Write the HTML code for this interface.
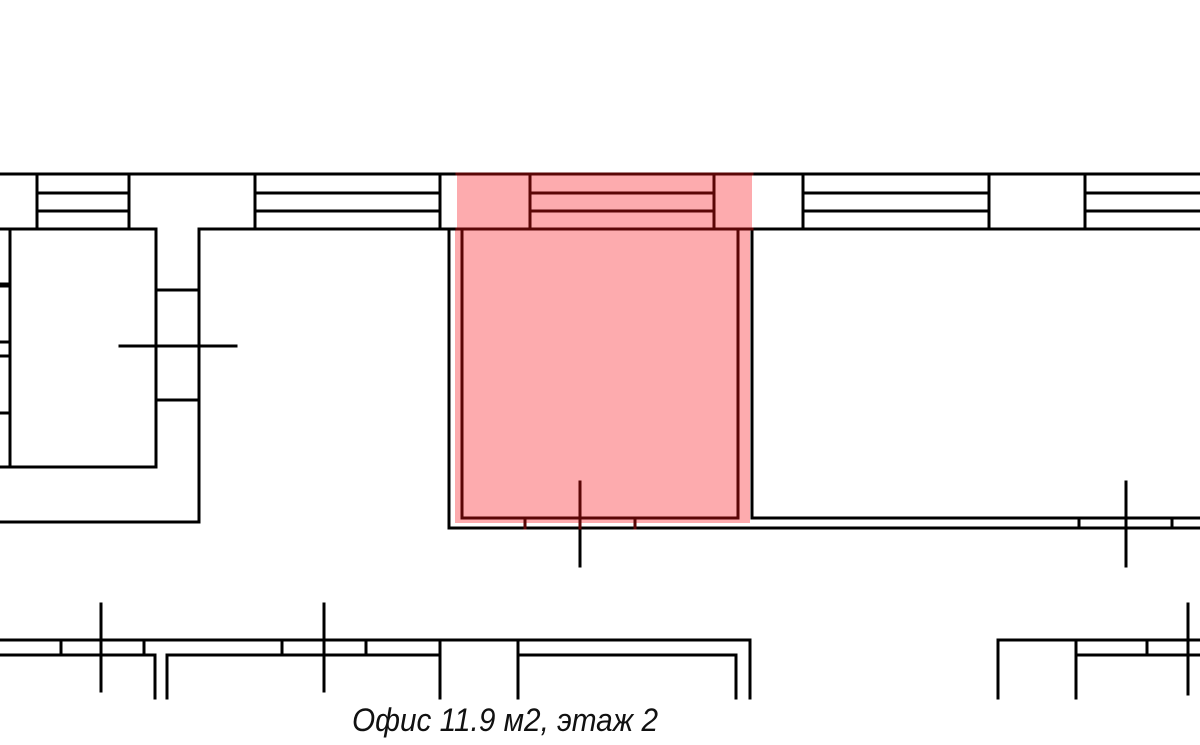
<!DOCTYPE html>
<html><head><meta charset="utf-8"><style>html,body{margin:0;padding:0;background:#fff;width:1200px;height:745px;overflow:hidden}</style></head>
<body>
<svg width="1200" height="745" viewBox="0 0 1200 745" xmlns="http://www.w3.org/2000/svg">
<rect x="457" y="174" width="295" height="56" fill="#fdabae"/>
<rect x="455" y="229" width="295" height="294" fill="#fdabae"/>
<g stroke="#000" stroke-width="3" fill="none" stroke-linecap="square">
<line x1="0" y1="174" x2="1200" y2="174"/>
<line x1="0" y1="229" x2="156" y2="229"/>
<line x1="199" y1="229" x2="1200" y2="229"/>
<line x1="37" y1="174" x2="37" y2="229"/><line x1="129" y1="174" x2="129" y2="229"/>
<line x1="37" y1="193" x2="129" y2="193"/><line x1="37" y1="211" x2="129" y2="211"/>
<line x1="255" y1="174" x2="255" y2="229"/><line x1="440" y1="174" x2="440" y2="229"/>
<line x1="255" y1="193" x2="440" y2="193"/><line x1="255" y1="211" x2="440" y2="211"/>
<line x1="803" y1="174" x2="803" y2="229"/><line x1="989" y1="174" x2="989" y2="229"/>
<line x1="803" y1="193" x2="989" y2="193"/><line x1="803" y1="211" x2="989" y2="211"/>
<line x1="1085" y1="174" x2="1085" y2="229"/>
<line x1="1085" y1="193" x2="1200" y2="193"/><line x1="1085" y1="211" x2="1200" y2="211"/>
<line x1="10" y1="229" x2="10" y2="467"/><line x1="156" y1="229" x2="156" y2="467"/>
<line x1="0" y1="467" x2="156" y2="467"/>
<line x1="199" y1="229" x2="199" y2="522"/><line x1="0" y1="522" x2="199" y2="522"/>
<line x1="156" y1="290" x2="199" y2="290"/><line x1="156" y1="400" x2="199" y2="400"/>
<line x1="120" y1="346" x2="236" y2="346"/>
<line x1="0" y1="342" x2="10" y2="342"/><line x1="0" y1="356" x2="10" y2="356"/><line x1="0" y1="413" x2="10" y2="413"/>
<line x1="0" y1="285" x2="8" y2="285" stroke-width="5"/>
<line x1="449" y1="229" x2="449" y2="528"/>
<line x1="449" y1="528" x2="1200" y2="528"/>
<line x1="752" y1="229" x2="752" y2="518"/><line x1="752" y1="518" x2="1200" y2="518"/>
<line x1="1079" y1="518" x2="1079" y2="528"/><line x1="1172" y1="518" x2="1172" y2="528"/>
<line x1="1126" y1="482" x2="1126" y2="566"/>
<line x1="580" y1="518" x2="580" y2="566"/>
<line x1="0" y1="640" x2="750" y2="640"/>
<line x1="0" y1="655" x2="155" y2="655"/><line x1="167" y1="655" x2="440" y2="655"/><line x1="518" y1="655" x2="736" y2="655"/>
<line x1="155" y1="655" x2="155" y2="698"/><line x1="167" y1="655" x2="167" y2="698"/>
<line x1="440" y1="640" x2="440" y2="698"/><line x1="518" y1="640" x2="518" y2="698"/>
<line x1="736" y1="655" x2="736" y2="698"/><line x1="750" y1="640" x2="750" y2="698"/>
<line x1="61" y1="640" x2="61" y2="655"/><line x1="144" y1="640" x2="144" y2="655"/>
<line x1="282" y1="640" x2="282" y2="655"/><line x1="366" y1="640" x2="366" y2="655"/>
<line x1="101" y1="604" x2="101" y2="691"/><line x1="324" y1="604" x2="324" y2="691"/>
<line x1="998" y1="640" x2="1200" y2="640"/>
<line x1="998" y1="640" x2="998" y2="698"/><line x1="1076" y1="640" x2="1076" y2="698"/>
<line x1="1076" y1="655" x2="1200" y2="655"/><line x1="1147" y1="640" x2="1147" y2="655"/>
<line x1="1188" y1="604" x2="1188" y2="694"/>
</g>
<g stroke="#5a0606" stroke-width="3" fill="none" stroke-linecap="square">
<line x1="457" y1="174" x2="752" y2="174"/>
<line x1="457" y1="229" x2="752" y2="229"/>
<line x1="530" y1="174" x2="530" y2="229"/><line x1="714" y1="174" x2="714" y2="229"/>
<line x1="530" y1="193" x2="714" y2="193"/><line x1="530" y1="211" x2="714" y2="211"/>
<rect x="462" y="229" width="276" height="289"/>
<line x1="525" y1="518" x2="525" y2="528"/><line x1="635" y1="518" x2="635" y2="528"/>
<line x1="580" y1="482" x2="580" y2="528"/>
</g>
<text x="352" y="731" font-family="'Liberation Sans Narrow','Liberation Sans',sans-serif" font-style="italic" font-size="32" textLength="306" lengthAdjust="spacingAndGlyphs" fill="#111">Офис 11.9 м2, этаж 2</text>
</svg>
</body></html>
